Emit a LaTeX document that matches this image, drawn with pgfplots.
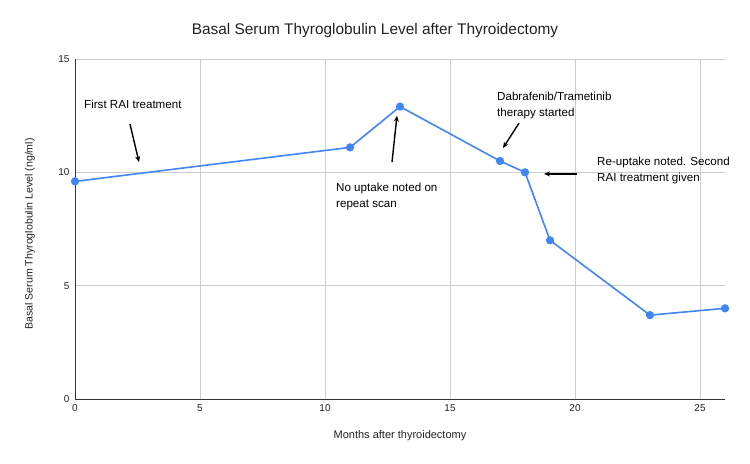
\documentclass[border=0pt]{standalone}
\usepackage{pgfplots}
\pgfplotsset{compat=1.18}
\usepackage{fontspec}
\setmainfont{Liberation Sans}
\usetikzlibrary{arrows.meta}
\definecolor{gblue}{HTML}{4285F4}
\definecolor{gridc}{HTML}{CCCCCC}
\definecolor{axc}{HTML}{333333}
\definecolor{txt}{HTML}{222222}
\begin{document}
\begin{tikzpicture}
\path[use as bounding box] (0,0) rectangle (750bp,464bp);
\begin{axis}[
  at={(75bp,65bp)}, anchor=south west,
  scale only axis, width=650bp, height=340bp,
  xmin=0, xmax=26, ymin=0, ymax=15,
  xtick={0,5,10,15,20,25}, ytick={0,5,10,15},
  grid=major, major grid style={gridc, line width=0.8pt},
  axis line style={draw=none},
  major tick length=0pt,
  tick label style={font=\fontsize{10bp}{11bp}\selectfont, text=txt},
  /pgf/number format/assume math mode=true,
  xticklabel style={yshift=-2bp},
  yticklabel style={xshift=-2bp},
  clip=false,
]
\draw[axc, line width=1pt] (axis cs:0,0) -- (axis cs:0,15);
\draw[axc, line width=1pt] (axis cs:0,0) -- (axis cs:26,0);
\addplot[gblue, line width=1.6pt, mark=*, mark size=3.3pt, mark options={fill=gblue, draw=gblue}] coordinates {
(0,9.6) (11,11.1) (13,12.9) (17,10.5) (18,10.0) (19,7.0) (23,3.7) (26,4.0)
};
\begin{scope}[line width=1.4pt, -{Stealth[length=6bp,width=5bp]}]
\draw (axis cs:2.2,12.13) -- (axis cs:2.56,10.45);
\draw (axis cs:12.68,10.45) -- (axis cs:12.88,12.5);
\draw (axis cs:17.76,12.17) -- (axis cs:17.12,11.07);
\draw (axis cs:20.08,9.93) -- (axis cs:18.76,9.93);
\end{scope}
\end{axis}
\begin{scope}[every node/.style={font=\fontsize{11.6bp}{15.5bp}\selectfont, text=black, inner sep=0pt, align=left}]
\node[anchor=west] at (84bp,360bp) {First RAI treatment};
\node[anchor=north west] at (336bp,281bp) {No uptake noted on\\repeat scan};
\node[anchor=north west] at (497bp,372bp) {Dabrafenib/Trametinib\\therapy started};
\node[anchor=north west] at (597bp,307bp) {Re-uptake noted. Second\\RAI treatment given};
\end{scope}
\node[font=\fontsize{15.4bp}{17bp}\selectfont, text=txt] at (375bp,433bp) {Basal Serum Thyroglobulin Level after Thyroidectomy};
\node[font=\fontsize{11bp}{12bp}\selectfont, text=txt] at (400bp,28bp) {Months after thyroidectomy};
\node[font=\fontsize{10.6bp}{12bp}\selectfont, text=txt, rotate=90] at (30bp,230bp) {Basal Serum Thyroglobulin Level (ng/ml)};
\end{tikzpicture}
\end{document}
